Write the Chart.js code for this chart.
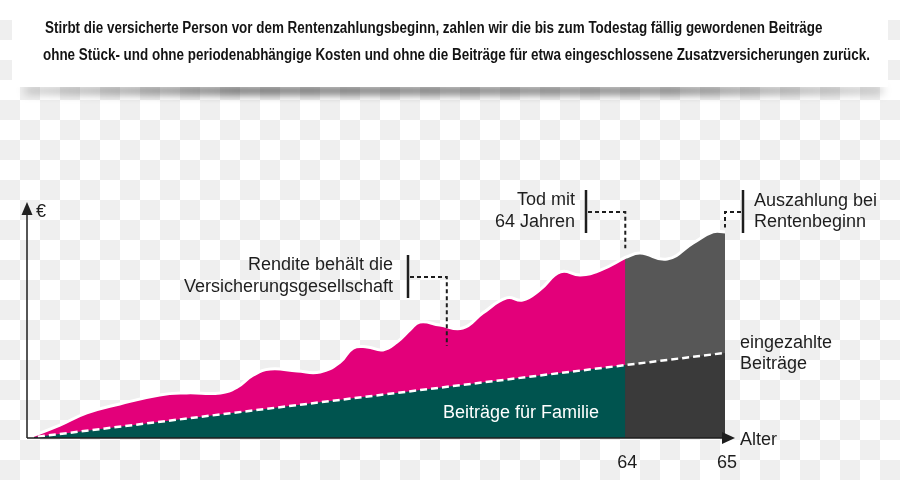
<!DOCTYPE html>
<html lang="de">
<head>
<meta charset="utf-8">
<script src="https://cdn.jsdelivr.net/npm/chart.js@4.4.1/dist/chart.umd.min.js"></script>
<style>
  html, body { margin: 0; padding: 0; }
  body {
    width: 900px; height: 480px; position: relative; overflow: hidden;
    background: repeating-conic-gradient(#efefef 0 25%, #ffffff 0 50%) 0 0 / 40px 40px;
  }
  #shadow {
    position: absolute; left: 25px; top: 87px; width: 858px; height: 7px;
    background: linear-gradient(90deg, rgba(0,0,0,0.2), rgba(0,0,0,0.7) 25%, rgba(0,0,0,0.6) 75%, rgba(0,0,0,0.2));
    filter: blur(4px);
  }
  #head {
    position: absolute; left: 12px; top: 0; width: 876px; height: 87px;
    background: #fff;
  }
  #head span {
    position: absolute; display: block; white-space: nowrap; transform-origin: 0 50%;
    font: bold 16px "Liberation Sans", Arial, sans-serif; color: #141414; line-height: 18px;
  }
  #chart { position: absolute; left: 0; top: 0; }
</style>
</head>
<body>
<div id="shadow"></div>
<div id="head">
  <span id="l1" style="left:33px; top:19px">Stirbt die versicherte Person vor dem Rentenzahlungsbeginn, zahlen wir die bis zum Todestag fällig gewordenen Beiträge</span>
  <span id="l2" style="left:31px; top:46px">ohne Stück- und ohne periodenabhängige Kosten und ohne die Beiträge für etwa eingeschlossene Zusatzversicherungen zurück.</span>
</div>
<canvas id="chart" width="900" height="480"></canvas>
<script>
// Verlauf (x) und Wert (y)
const renditeSteps = [0, 3.3, 6.0, 9.3, 13.3, 16.0, 19.4, 21.1, 22.7, 24.4, 27.1, 29.4, 31.4, 32.7, 34.1, 35.7, 37.1, 38.4, 39.4, 41.4, 43.7, 45.7, 48.1, 49.7, 51.4, 53.5, 55.5, 57.5, 60];
const rendite = [0, 5.6, 10.9, 14.8, 18.7, 19.6, 19.6, 22.2, 27.4, 30.0, 29.1, 28.7, 33.0, 39.1, 39.6, 38.3, 41.7, 47.0, 50.4, 49.1, 47.8, 54.3, 60.9, 60.0, 64.3, 72.2, 70.9, 73.0, 78.5];
const auszahlungSteps = [59.9, 61.5, 64.2, 66.8, 68.8, 70];
const auszahlung = [78.4, 80.4, 77.8, 84.8, 89.6, 89.6];
const beitragSteps = [0, 60, 70];
const beitraege = [0, 31.7, 37.0];
const restSteps = [59.9, 70];
const rest = [31.66, 37.0];
const tickSteps = [60, 70];
const tickLabels = ["64", "65"];

// Kopfzeile auf die Breite des Originals stauchen
const l2 = document.getElementById("l2");
const squeeze = 827 / l2.getBoundingClientRect().width;
document.querySelectorAll("#head span").forEach(s => { s.style.transform = "scaleX(" + squeeze + ")"; });

const magenta = "#e3007a";
const teal = "#00544f";
const greyTop = "#575757";
const greyLow = "#3a3a3a";
const ink = "#1e1e1e";
const font = '18px "Liberation Sans", Arial, sans-serif';

const pts = (xs, ys) => xs.map((v, i) => ({ x: v, y: ys[i] }));

function line(ctx, coords, dash) {
  ctx.setLineDash(dash || []);
  ctx.beginPath();
  ctx.moveTo(coords[0], coords[1]);
  for (let i = 2; i < coords.length; i += 2) ctx.lineTo(coords[i], coords[i + 1]);
  ctx.stroke();
}

const annotate = {
  id: "annotate",
  afterDatasetsDraw(chart) {
    const { ctx, scales: { x, y } } = chart;
    const x0 = x.getPixelForValue(0);
    const yb = y.getPixelForValue(0);
    const x64 = x.getPixelForValue(tickSteps[0]);
    const x65 = x.getPixelForValue(tickSteps[1]);
    ctx.save();
    ctx.strokeStyle = ink;
    ctx.fillStyle = ink;

    // Achsen mit Pfeilen
    ctx.lineWidth = 1.5;
    line(ctx, [x0, yb, x0, 212]);
    line(ctx, [x0, yb, x65 + 2, yb]);
    ctx.beginPath();
    ctx.moveTo(x0, 202); ctx.lineTo(x0 - 5.5, 215); ctx.lineTo(x0 + 5.5, 215); ctx.closePath(); ctx.fill();
    ctx.beginPath();
    ctx.moveTo(x65 + 10, yb); ctx.lineTo(x65 - 3, yb - 6); ctx.lineTo(x65 - 3, yb + 6); ctx.closePath(); ctx.fill();

    ctx.font = font;
    ctx.textBaseline = "middle";
    ctx.textAlign = "left";
    ctx.fillText("€", x0 + 9, 212);
    ctx.fillText("Alter", 740, 440);
    ctx.textAlign = "center";
    tickSteps.forEach((t, i) => ctx.fillText(tickLabels[i], x.getPixelForValue(t) + 2, 463));

    // Rendite
    ctx.textAlign = "right";
    ctx.fillText("Rendite behält die", 393, 265);
    ctx.fillText("Versicherungsgesellschaft", 393, 287);
    // Tod
    ctx.fillText("Tod mit", 575, 200);
    ctx.fillText("64 Jahren", 575, 222);
    // Auszahlung
    ctx.textAlign = "left";
    ctx.fillText("Auszahlung bei", 754, 201);
    ctx.fillText("Rentenbeginn", 754, 222);
    ctx.fillText("eingezahlte", 740, 343);
    ctx.fillText("Beiträge", 740, 364);
    ctx.textAlign = "center";
    ctx.fillStyle = "#ffffff";
    ctx.fillText("Beiträge für Familie", 521, 413);

    // Klammern
    ctx.lineWidth = 2.5;
    line(ctx, [408, 255, 408, 298]);
    line(ctx, [586, 190, 586, 233]);
    line(ctx, [743, 190, 743, 233]);
    ctx.lineWidth = 2;
    const xr = x.getPixelForValue(42.1);
    line(ctx, [410, 277, xr, 277, xr, y.getPixelForValue(40)], [4, 3]);
    line(ctx, [588, 212, x64, 212, x64, y.getPixelForValue(82.5)], [4, 3]);
    line(ctx, [741, 212, x65, 212, x65, y.getPixelForValue(91.5)], [4, 3]);
    ctx.restore();
  }
};

new Chart(document.getElementById("chart").getContext("2d"), {
  type: "line",
  data: {
    datasets: [
      { data: pts(beitragSteps, beitraege), borderColor: "#ffffff", borderWidth: 2.5, borderDash: [7, 4], fill: false, pointRadius: 0 },
      { data: pts(beitragSteps.slice(0, 2), beitraege.slice(0, 2)), borderWidth: 0, backgroundColor: teal, fill: "origin", pointRadius: 0 },
      { data: pts(restSteps, rest), borderWidth: 0, backgroundColor: greyLow, fill: "origin", pointRadius: 0 },
      { data: pts(renditeSteps, rendite), borderColor: "#ffffff", borderWidth: 3, backgroundColor: magenta, fill: "origin", pointRadius: 0, tension: 0.45 },
      { data: pts(auszahlungSteps, auszahlung), borderColor: "#ffffff", borderWidth: 3, backgroundColor: greyTop, fill: "origin", pointRadius: 0, tension: 0.45 }
    ]
  },
  options: {
    responsive: false,
    animation: false,
    devicePixelRatio: 1,
    layout: { padding: { left: 27, right: 175, top: 208, bottom: 42 } },
    scales: {
      x: { type: "linear", min: 0, max: 70, display: false },
      y: { min: 0, max: 100, display: false }
    },
    plugins: { legend: { display: false }, tooltip: { enabled: false } }
  },
  plugins: [annotate]
});
</script>
</body>
</html>
